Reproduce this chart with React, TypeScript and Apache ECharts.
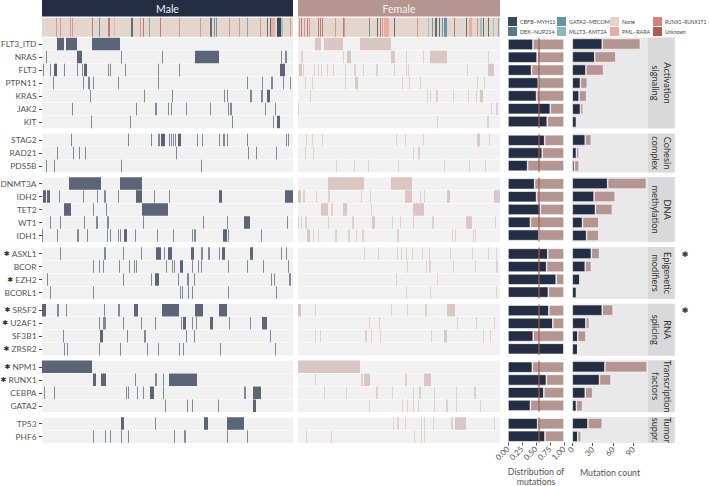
import React, { useEffect, useRef } from "react";
import * as echarts from "echarts";

type Hit = number | [number, number];

const FONT = "Lato, 'DejaVu Sans', sans-serif";
const maleSampleCount = 251;
const femaleSampleCount = 202;

const facetNames = [
  "Activation\nsignaling",
  "Cohesin\ncomplex",
  "DNA\nmethylation",
  "Epigenetic\nmodifiers",
  "RNA\nsplicing",
  "Transcription\nfactors",
  "Tumor\nsuppr.",
];
const facetGenes = [
  ["FLT3_ITD", "NRAS", "FLT3", "PTPN11", "KRAS", "JAK2", "KIT"],
  ["STAG2", "RAD21", "PDS5B"],
  ["DNMT3A", "IDH2", "TET2", "WT1", "IDH1"],
  ["ASXL1", "BCOR", "EZH2", "BCORL1"],
  ["SRSF2", "U2AF1", "SF3B1", "ZRSR2"],
  ["NPM1", "RUNX1", "CEBPA", "GATA2"],
  ["TP53", "PHF6"],
];
const starredGenes = ["ASXL1", "EZH2", "SRSF2", "U2AF1", "ZRSR2", "NPM1", "RUNX1"];
const starredFacets = ["Epigenetic\nmodifiers", "RNA\nsplicing"];

const maleMutations: Record<string, Hit[]> = {
  FLT3_ITD: [[15, 22], [24, 35], [50, 78]],
  NRAS: [4, [35, 40], 79, 120, [153, 177], 239, [243, 245]],
  FLT3: [1, 8, [12, 15], 22, 35, 40, [42, 45], 66, 68, 83, 116, 137, [238, 243]],
  PTPN11: [11, 41, [46, 48], 51, 76, 116, 205, 220, [229, 231], 241, 248],
  KRAS: [48, 102, 130, 182, 185, [208, 210], [219, 221], [225, 228]],
  JAK2: [30, 94, [113, 115], 126, 129, 144, 168, 186, [188, 190], 223, 233],
  KIT: [49, 88, 190, 231, [235, 238]],
  STAG2: [29, 86, 109, [116, 118], [119, 123], 127, 129, 131, 133, [136, 139], 155, 160, 177, [181, 183], 185, 205, 244, 246],
  RAD21: [15, 31, 37, 43, 134, 206, 214, 234],
  PDS5B: [4, 12, 79, 159],
  DNMT3A: [[27, 59], [78, 100]],
  IDH2: [[1, 4], [5, 8], 17, 41, 55, [62, 64], 76, [94, 100], 112, 127, [177, 180], [243, 251]],
  TET2: [[22, 29], 51, 64, [100, 126]],
  WT1: [8, 18, 42, [54, 56], [65, 67], 101, 161, 185, [202, 208], 245],
  IDH1: [0, 15, [35, 37], 45, 65, 68, 76, 78, [82, 85], 93, 115, 131, 150, 152, 153, [181, 185], 186, 219],
  ASXL1: [18, [62, 64], 81, 99, [114, 119], 122, [126, 130], [149, 152], [159, 161], [166, 168], 177, [180, 183], [208, 211], 239, 244],
  BCOR: [51, 57, 61, 77, 87, 92, 94, 124, 130, 132, [138, 141], 150, 156, 159, 186, 205, 221, 246],
  EZH2: [5, 81, 109, [113, 117], 136, [145, 147], 152, 229, 232, 247, 248],
  BCORL1: [8, 51, 138, 140, 146, 150, 186, 234],
  SRSF2: [[0, 4], [15, 17], 24, 62, [76, 78], [92, 96], [120, 137], [153, 161], [177, 185]],
  U2AF1: [57, 61, [62, 64], 81, 99, 113, 139, [141, 144], 150, 154, [168, 171], 187, 208, [220, 225]],
  SF3B1: [21, [58, 61], 85, [102, 104], 144, 152, 228],
  ZRSR2: [22, 25, 57, 78, 105, 116, 137, 141, 178, 233],
  NPM1: [[0, 50]],
  RUNX1: [[51, 54], [59, 64], 93, [113, 115], 121, [127, 155]],
  CEBPA: [2, 12, 84, 86, 95, 101, [108, 112], 121, [202, 204], [211, 219]],
  GATA2: [123, 145, 150, 176, [211, 214]],
  TP53: [[79, 82], 113, [162, 166], [185, 202]],
  PHF6: [51, 63, 68, 79, 86, 132, [142, 144], 185, 205],
};

const femaleMutations: Record<string, Hit[]> = {
  FLT3_ITD: [[17, 23], [26, 45], [62, 93]],
  NRAS: [[3, 5], 45, [49, 53], [93, 97], 108, 125, [132, 149], 190],
  FLT3: [[1, 4], 5, 16, 20, 23, 29, 35, 47, [56, 58], 65, [78, 80], 96, 108, 110, 169, [190, 196]],
  PTPN11: [7, 14, 47, [57, 60], 104, 111, 122, 179, 186],
  KRAS: [12, 129, 132, [138, 140], 155, 170, 178, [182, 185]],
  JAK2: [0, 193, [198, 200]],
  KIT: [139, [189, 191]],
  STAG2: [8, 14, 24, 98, 107, 125, [179, 182], 191],
  RAD21: [7, 15, 115, [120, 122]],
  PDS5B: [38, 56, 70, 100, 146, 171, 187],
  DNMT3A: [[30, 66], [93, 114]],
  IDH2: [[0, 3], [5, 7], 18, [30, 32], 63, 72, [107, 114], 122, 126, [149, 152], [196, 202]],
  TET2: [[23, 30], [33, 35], [45, 49], 73, [115, 126]],
  WT1: [0, 3, [7, 9], 30, [54, 56], [74, 77], 94, 102, 115, [134, 136], [168, 174], 197],
  IDH1: [[9, 12], 15, 20, [37, 39], [50, 52], 58, [64, 66], [99, 101], 154, 157, 175, 177],
  ASXL1: [66, 80, 99, 103, 108, 114, 124, 131, 152, 174, 190, 198],
  BCOR: [109, 128, [131, 133], 155, 177, [198, 200]],
  EZH2: [98, 139],
  BCORL1: [108, 132, 198],
  SRSF2: [[0, 3], 17, 93, 109, [127, 129], [149, 157]],
  U2AF1: [71, 81, 159, 178, 196],
  SF3B1: [17, 22, [67, 69], 73, 82, 133, [146, 149], 185, 192],
  ZRSR2: [],
  NPM1: [[0, 62]],
  RUNX1: [17, [63, 65], [66, 72], [107, 109], [126, 133]],
  CEBPA: [26, 48, [78, 80], 94, 115, [121, 123], 136, 158, [176, 178]],
  GATA2: [71, 104, 109, 115, 120, 136, [148, 150], 158, 182],
  TP53: [95, [99, 101], 107, 123, 126, 135, [153, 155], [157, 168], 196],
  PHF6: [8, 33, 116, 123, 126],
};

const maleCount: Record<string, number> = {
  FLT3_ITD: 44, NRAS: 33, FLT3: 20, PTPN11: 12, KRAS: 10, JAK2: 12, KIT: 6,
  STAG2: 19, RAD21: 6, PDS5B: 3,
  DNMT3A: 52, IDH2: 32, TET2: 34, WT1: 15, IDH1: 21,
  ASXL1: 28, BCOR: 19, EZH2: 11, BCORL1: 6,
  SRSF2: 44, U2AF1: 20, SF3B1: 8, ZRSR2: 8,
  NPM1: 48, RUNX1: 40, CEBPA: 19, GATA2: 6,
  TP53: 23, PHF6: 8,
};
const femaleCount: Record<string, number> = {
  FLT3_ITD: 56, NRAS: 31, FLT3: 26, PTPN11: 10, KRAS: 11, JAK2: 4, KIT: 2,
  STAG2: 9, RAD21: 4, PDS5B: 7,
  DNMT3A: 57, IDH2: 31, TET2: 25, WT1: 24, IDH1: 18,
  ASXL1: 12, BCOR: 9, EZH2: 2, BCORL1: 2,
  SRSF2: 16, U2AF1: 5, SF3B1: 12, ZRSR2: 0,
  NPM1: 62, RUNX1: 17, CEBPA: 11, GATA2: 9,
  TP53: 21, PHF6: 5,
};
const maleShare: Record<string, number> = {
  FLT3_ITD: 0.446, NRAS: 0.52, FLT3: 0.42, PTPN11: 0.54, KRAS: 0.51, JAK2: 0.755, KIT: 0.7,
  STAG2: 0.655, RAD21: 0.61, PDS5B: 0.35,
  DNMT3A: 0.476, IDH2: 0.51, TET2: 0.58, WT1: 0.4, IDH1: 0.55,
  ASXL1: 0.71, BCOR: 0.69, EZH2: 0.86, BCORL1: 0.72,
  SRSF2: 0.73, U2AF1: 0.8, SF3B1: 0.45, ZRSR2: 1,
  NPM1: 0.435, RUNX1: 0.685, CEBPA: 0.64, GATA2: 0.4,
  TP53: 0.53, PHF6: 0.66,
};
const overallMaleShare = 0.553;

const subtypeNames = ["None", "CBFB−MYH11", "DEK−NUP214", "GATA2−MECOM", "MLLT3−KMT2A", "PML−RARA", "RUNX1−RUNX1T1", "Unknown"];
const subtypeColors = ["#e3d6cd", "#38495a", "#587a93", "#5f97ad", "#8ab9bb", "#e9ac9f", "#d8827a", "#b15c52"];
const maleSubtypes: Record<string, Hit[]> = {
  None: [[0, 251]],
  "CBFB−MYH11": [[89, 91], [168, 170], 225, 228, [235, 239]],
  "DEK−NUP214": [57, 172, 174],
  "GATA2−MECOM": [107, 205],
  "MLLT3−KMT2A": [[239, 241]],
  "PML−RARA": [72, [229, 233]],
  "RUNX1−RUNX1T1": [14, 18, 28, 30, 98, 137, 158, 187, 197, 218, 248],
  Unknown: [50, 66, 67, 101, 118],
};
const femaleSubtypes: Record<string, Hit[]> = {
  None: [[0, 202]],
  "CBFB−MYH11": [79, 96, [137, 139], 141, 168, 185, 190],
  "DEK−NUP214": [71, 134, 144],
  "GATA2−MECOM": [[146, 149], 200],
  "MLLT3−KMT2A": [130, [182, 184], 195],
  "PML−RARA": [[86, 91], [171, 174]],
  "RUNX1−RUNX1T1": [1, 6, 11, 37, 46, 119, 179, 84],
  Unknown: [3, 9, 20, 22, 24, 45, 82, 156],
};

const legendColumns = [
  { left: 508, fontSize: 5.4, names: ["CBFB−MYH11", "DEK−NUP214"] },
  { left: 557, fontSize: 5.4, names: ["GATA2−MECOM", "MLLT3−KMT2A"] },
  { left: 610, fontSize: 5.4, names: ["None", "PML−RARA"] },
  { left: 653, fontSize: 4.9, names: ["RUNX1−RUNX1T1", "Unknown"] },
];

const distTicks = [0, 0.25, 0.5, 0.75, 1];
const countTicks = [0, 30, 60, 90];

const ROW = 13;
const facetTops = [37.5, 133.5, 177, 247, 303.7, 360.3, 417];
const MALE_X = 42;
const MALE_W = maleSampleCount;
const FEMALE_X = 298;
const FEMALE_W = femaleSampleCount;
const DIST_X = 508;
const DIST_W = 56;
const COUNT_X = 572.3;
const COUNT_W = 75.5;
const STRIP_W = 27;
const NAVY = "#232d43";
const ROSE = "#b49590";
const TEXT = "#555555";

const toRanges = (hits: Hit[], row = 0) =>
  hits.map((h) => (Array.isArray(h) ? [h[0], h[1], row] : [h, h + 1, row]));

const rectItem = (_: any, api: any) => {
  const a = api.coord([api.value(0), api.value(2)]);
  const b = api.coord([api.value(1), api.value(2)]);
  const h = api.size([0, 1])[1];
  const narrow = api.value(1) - api.value(0) <= 2;
  return {
    type: "rect",
    shape: { x: a[0], y: a[1] - h / 2 + 0.25, width: b[0] - a[0], height: h - 0.5 },
    style: { fill: api.visual("color"), opacity: narrow ? 0.75 : 1 },
  };
};

function buildOption() {
  const grid: any[] = [];
  const xAxis: any[] = [];
  const yAxis: any[] = [];
  const series: any[] = [];
  const graphic: any[] = [];

  const addGrid = (g: any, x: any, y: any) => {
    const i = grid.length;
    grid.push({ containLabel: false, outerBoundsMode: "none", borderWidth: 0, ...g });
    xAxis.push({ gridIndex: i, ...x });
    yAxis.push({ gridIndex: i, ...y });
    return i;
  };
  const hiddenY = (data: string[]) => ({ type: "category", data, inverse: true, show: false });

  // Subtype annotation strips
  [
    { left: MALE_X, width: MALE_W, max: maleSampleCount, data: maleSubtypes },
    { left: FEMALE_X, width: FEMALE_W, max: femaleSampleCount, data: femaleSubtypes },
  ].forEach((p) => {
    const i = addGrid(
      { left: p.left, width: p.width, top: 17.5, height: 19.5 },
      { type: "value", min: 0, max: p.max, show: false },
      hiddenY(["subtype"])
    );
    subtypeNames.forEach((name, k) => {
      series.push({
        type: "custom",
        name,
        xAxisIndex: i,
        yAxisIndex: i,
        renderItem: rectItem,
        encode: { x: [0, 1], y: 2 },
        itemStyle: { color: subtypeColors[k] },
        data: toRanges(p.data[name]),
      });
    });
  });

  facetGenes.forEach((genes, f) => {
    const top = facetTops[f];
    const height = genes.length * ROW;

    // Male mutation panel
    const mi = addGrid(
      { left: MALE_X, width: MALE_W, top, height, show: true, backgroundColor: "#f1f1f1" },
      { type: "value", min: 0, max: maleSampleCount, show: false },
      {
        type: "category",
        data: genes,
        inverse: true,
        axisLine: { show: false },
        axisTick: { show: true, alignWithLabel: true, length: 3, lineStyle: { color: "#444" } },
        axisLabel: {
          interval: 0,
          fontFamily: FONT,
          fontSize: 8.4,
          color: TEXT,
          margin: 5.5,
          formatter: (g: string) => (starredGenes.includes(g) ? `{s|✱} ${g}` : g),
          rich: { s: { fontFamily: "'DejaVu Sans'", fontSize: 7, color: "#333" } },
        },
        splitLine: { show: true, interval: 0, lineStyle: { color: "#ffffff", width: 0.6 } },
      }
    );
    series.push({
      type: "custom",
      name: `Male ${f}`,
      xAxisIndex: mi,
      yAxisIndex: mi,
      renderItem: rectItem,
      encode: { x: [0, 1], y: 2 },
      itemStyle: { color: "#5c6478" },
      data: genes.flatMap((g, r) => toRanges(maleMutations[g], r)),
    });

    // Female mutation panel
    const fi = addGrid(
      { left: FEMALE_X, width: FEMALE_W, top, height, show: true, backgroundColor: "#f1f1f1" },
      { type: "value", min: 0, max: femaleSampleCount, show: false },
      {
        type: "category",
        data: genes,
        inverse: true,
        axisLine: { show: false },
        axisTick: { show: false },
        axisLabel: { show: false },
        splitLine: { show: true, interval: 0, lineStyle: { color: "#ffffff", width: 0.6 } },
      }
    );
    series.push({
      type: "custom",
      name: `Female ${f}`,
      xAxisIndex: fi,
      yAxisIndex: fi,
      renderItem: rectItem,
      encode: { x: [0, 1], y: 2 },
      itemStyle: { color: "#dac6c2" },
      data: genes.flatMap((g, r) => toRanges(femaleMutations[g], r)),
    });

    const last = f === facetGenes.length - 1;
    const axisTitle = { fontFamily: FONT, fontSize: 8.8, color: TEXT, lineHeight: 10 };
    const tickBase = { length: 3, lineStyle: { color: "#555" } };

    // Distribution panel
    const di = addGrid(
      { left: DIST_X, width: DIST_W, top: top + 0.5, height: height - 1 },
      {
        type: "value",
        min: 0,
        max: 1,
        interval: 0.25,
        show: last,
        axisLine: { show: false },
        splitLine: { show: false },
        axisTick: { show: last, ...tickBase, customValues: distTicks },
        axisLabel: {
          show: last,
          rotate: 45,
          fontFamily: FONT,
          fontSize: 8,
          color: TEXT,
          margin: 5,
          customValues: distTicks,
          formatter: (v: number) => v.toFixed(2),
        },
        name: last ? "Distribution of\nmutations" : "",
        nameLocation: "middle",
        nameGap: 24,
        nameTextStyle: axisTitle,
      },
      hiddenY(genes)
    );
    const barBase = {
      type: "bar",
      xAxisIndex: di,
      yAxisIndex: di,
      barWidth: 11,
      stack: `dist${f}`,
    };
    series.push({
      ...barBase,
      name: `Male share ${f}`,
      itemStyle: { color: NAVY, borderColor: "#fff", borderWidth: 0.6 },
      data: genes.map((g) => maleShare[g]),
    });
    series.push({
      ...barBase,
      name: `Female share ${f}`,
      itemStyle: { color: ROSE, borderColor: "#fff", borderWidth: 0.6 },
      data: genes.map((g) => 1 - maleShare[g]),
      markLine: {
        silent: true,
        symbol: "none",
        label: { show: false },
        lineStyle: { color: "#ad5d50", width: 1.5, type: "solid", opacity: 0.8 },
        data: [{ xAxis: overallMaleShare }],
      },
    });

    // Count panel
    const ci = addGrid(
      { left: COUNT_X, width: COUNT_W, top, height, show: true, backgroundColor: "#e9e9e9" },
      {
        type: "value",
        min: 0,
        max: 111,
        interval: 30,
        show: last,
        axisLine: { show: false },
        splitLine: { show: false },
        axisTick: { show: last, ...tickBase, customValues: countTicks },
        axisLabel: {
          show: last,
          rotate: 45,
          fontFamily: FONT,
          fontSize: 8,
          color: TEXT,
          margin: 5,
          customValues: countTicks,
        },
        name: last ? "Mutation count" : "",
        nameLocation: "middle",
        nameGap: 24,
        nameTextStyle: axisTitle,
      },
      hiddenY(genes)
    );
    const countBase = {
      type: "bar",
      xAxisIndex: ci,
      yAxisIndex: ci,
      barWidth: 11,
      stack: `count${f}`,
    };
    series.push({
      ...countBase,
      name: `Male count ${f}`,
      itemStyle: { color: NAVY, borderColor: "#fff", borderWidth: 0.6 },
      data: genes.map((g) => maleCount[g]),
    });
    series.push({
      ...countBase,
      name: `Female count ${f}`,
      itemStyle: { color: ROSE, borderColor: "#fff", borderWidth: 0.6 },
      data: genes.map((g) => femaleCount[g]),
    });

    // Facet strip
    graphic.push({
      type: "rect",
      shape: { x: COUNT_X + COUNT_W, y: top, width: STRIP_W, height },
      style: { fill: "#d9d9d9" },
    });
    graphic.push({
      type: "text",
      x: COUNT_X + COUNT_W + STRIP_W / 2,
      y: top + height / 2,
      rotation: -Math.PI / 2,
      style: {
        text: facetNames[f],
        align: "center",
        verticalAlign: "middle",
        fontFamily: FONT,
        fontSize: 9.2,
        lineHeight: 12,
        fill: "#333",
      },
    });
    if (starredFacets.includes(facetNames[f])) {
      graphic.push({
        type: "text",
        x: 685,
        y: top + 7,
        style: {
          text: "✱",
          align: "center",
          verticalAlign: "middle",
          fontFamily: "'DejaVu Sans'",
          fontSize: 8,
          fill: "#333",
        },
      });
    }
  });

  // Sex headers
  [
    { x: MALE_X, w: MALE_W, label: "Male", fill: NAVY },
    { x: FEMALE_X, w: FEMALE_W, label: "Female", fill: ROSE },
  ].forEach((h) => {
    graphic.push({ type: "rect", shape: { x: h.x, y: 0, width: h.w, height: 16.5 }, style: { fill: h.fill } });
    graphic.push({
      type: "text",
      x: h.x + h.w / 2,
      y: 8.5,
      style: {
        text: h.label,
        align: "center",
        verticalAlign: "middle",
        fontFamily: FONT,
        fontSize: 10.5,
        fill: "#f2f2f2",
      },
    });
  });

  const legend = legendColumns.map((c) => ({
    left: c.left,
    top: 17,
    padding: 0,
    orient: "vertical",
    selectedMode: false,
    itemWidth: 9,
    itemHeight: 9,
    itemGap: 1,
    icon: "rect",
    data: c.names,
    textStyle: { fontFamily: FONT, fontSize: c.fontSize, color: "#444", padding: [0, 0, 0, -2] },
  }));

  return { animation: false, grid, xAxis, yAxis, series, graphic, legend };
}

export default function App() {
  const ref = useRef<HTMLDivElement>(null);
  useEffect(() => {
    const chart = echarts.init(ref.current!, null, { renderer: "svg" });
    chart.setOption(buildOption() as any);
    return () => chart.dispose();
  }, []);
  return <div ref={ref} style={{ position: "absolute", left: 0, top: 0, width: 709, height: 486 }} />;
}
